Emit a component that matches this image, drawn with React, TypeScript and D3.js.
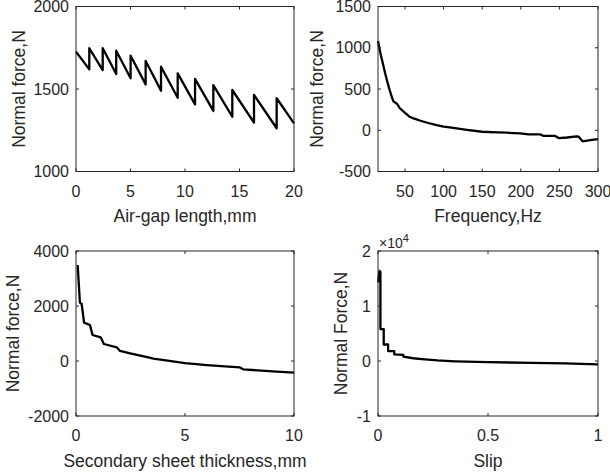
import React from "react";
import * as d3 from "d3";

// panel 1: air-gap sweep (sawtooth)
const airGap = [0, 1.22, 1.22, 2.45, 2.45, 3.69, 3.69, 5.01, 5.01, 6.39, 6.39, 7.8, 7.8, 9.33, 9.33, 10.92, 10.92, 12.6, 12.6, 14.34, 14.34, 16.33, 16.33, 18.41, 18.41, 20];
const forceGap = [1726, 1619, 1747, 1615, 1747, 1591, 1732, 1565, 1702, 1528, 1670, 1490, 1635, 1447, 1595, 1407, 1561, 1367, 1524, 1332, 1494, 1296, 1464, 1262, 1444, 1292];

// panel 2: frequency sweep
const freq = [15, 18, 21, 24, 27, 30, 33, 35, 38, 40, 43, 46, 50, 53, 56, 62, 70, 80, 91, 100, 108, 117, 130, 150, 170, 182, 199, 210, 225, 229, 244, 249, 260, 272, 275, 280, 290, 300];
const forceFreq = [1081, 940, 820, 700, 590, 490, 400, 350, 330, 316, 270, 244, 211, 188, 163, 140, 115, 88, 62, 45, 34, 22, 5, -18, -25, -30, -38, -50, -50, -67, -67, -95, -88, -74, -78, -134, -120, -107];

// panel 3: secondary sheet thickness sweep
const thick = [0.077, 0.18, 0.26, 0.37, 0.64, 0.76, 1.13, 1.28, 1.87, 2.02, 2.48, 3.32, 3.55, 4.2, 5.0, 6.0, 7.0, 7.52, 7.67, 8.5, 9.2, 10];
const forceThick = [3491, 2120, 2073, 1393, 1309, 945, 862, 618, 498, 364, 280, 135, 84, 15, -78, -150, -205, -235, -302, -350, -390, -425];

// panel 4: slip sweep (x1e4 N)
const slip = [0.001, 0.004, 0.007, 0.009, 0.011, 0.011, 0.026, 0.026, 0.046, 0.046, 0.074, 0.074, 0.115, 0.115, 0.16, 0.2, 0.27, 0.35, 0.5, 0.7, 0.85, 1.0];
const forceSlip = [1.43, 1.55, 1.64, 1.5, 1.62, 0.58, 0.58, 0.3, 0.3, 0.18, 0.18, 0.12, 0.11, 0.08, 0.05, 0.035, 0.01, -0.005, -0.02, -0.035, -0.045, -0.06];

const gapTicks = [0, 5, 10, 15, 20];
const gapForceTicks = [1000, 1500, 2000];
const freqTicks = [50, 100, 150, 200, 250, 300];
const freqForceTicks = [-500, 0, 500, 1000, 1500];
const thickTicks = [0, 5, 10];
const thickForceTicks = [-2000, 0, 2000, 4000];
const slipTicks = [0, 0.5, 1];
const slipForceTicks = [-1, 0, 1, 2];

const FONT = "'Liberation Sans', Arial, sans-serif";
const INK = "#262626";
const TICK = 3;

type Box = { left: number; right: number; top: number; bottom: number };

function Panel(props: {
  box: Box;
  xDomain: [number, number];
  yDomain: [number, number];
  xTicks: number[];
  yTicks: number[];
  xs: number[];
  ys: number[];
  xLabel: string;
  yLabel: string;
  yLabelX: number;
  exponent?: boolean;
}) {
  const { box, xDomain, yDomain, xTicks, yTicks, xs, ys, xLabel, yLabel, yLabelX, exponent } = props;
  const x = d3.scaleLinear().domain(xDomain).range([box.left, box.right]);
  const y = d3.scaleLinear().domain(yDomain).range([box.bottom, box.top]);
  const line = d3
    .line<number>()
    .x((d, i) => x(xs[i]))
    .y((d) => y(d));
  const midY = (box.top + box.bottom) / 2;
  const midX = (box.left + box.right) / 2;

  return (
    <g>
      <path d={line(ys) || ""} fill="none" stroke="#000" strokeWidth={2.3} strokeLinejoin="round" />
      <rect
        x={box.left}
        y={box.top}
        width={box.right - box.left}
        height={box.bottom - box.top}
        fill="none"
        stroke={INK}
        strokeWidth={1}
      />
      {xTicks.map((t) => (
        <g key={"x" + t}>
          <line x1={x(t)} x2={x(t)} y1={box.bottom} y2={box.bottom - TICK} stroke={INK} />
          <line x1={x(t)} x2={x(t)} y1={box.top} y2={box.top + TICK} stroke={INK} />
          <text x={x(t)} y={box.bottom + 25} textAnchor="middle" fontSize={16} fill={INK} fontFamily={FONT}>
            {t}
          </text>
        </g>
      ))}
      {yTicks.map((t) => (
        <g key={"y" + t}>
          <line x1={box.left} x2={box.left + TICK} y1={y(t)} y2={y(t)} stroke={INK} />
          <line x1={box.right} x2={box.right - TICK} y1={y(t)} y2={y(t)} stroke={INK} />
          <text x={box.left - 7} y={y(t) + 5.5} textAnchor="end" fontSize={16} fill={INK} fontFamily={FONT}>
            {t}
          </text>
        </g>
      ))}
      <text x={midX} y={box.bottom + 50.5} textAnchor="middle" fontSize={17.5} fill={INK} fontFamily={FONT}>
        {xLabel}
      </text>
      <text
        transform={`translate(${yLabelX},${midY}) rotate(-90)`}
        textAnchor="middle"
        fontSize={17.5}
        fill={INK}
        fontFamily={FONT}
      >
        {yLabel}
      </text>
      {exponent && (
        <text x={box.left + 1} y={box.top - 3} fontSize={14} fill={INK} fontFamily={FONT}>
          ×10
          <tspan dy={-6} fontSize={11}>
            4
          </tspan>
        </text>
      )}
    </g>
  );
}

export default function App() {
  return (
    <svg
      width={610}
      height={474}
      style={{ position: "absolute", left: 0, top: 0, background: "#fff" }}
    >
      <rect width={610} height={474} fill="#fff" />
      <Panel
        box={{ left: 76, right: 294, top: 6.5, bottom: 171.5 }}
        xDomain={[0, 20]}
        yDomain={[1000, 2000]}
        xTicks={gapTicks}
        yTicks={gapForceTicks}
        xs={airGap}
        ys={forceGap}
        xLabel="Air-gap length,mm"
        yLabel="Normal force,N"
        yLabelX={25}
      />
      <Panel
        box={{ left: 378, right: 598, top: 6.5, bottom: 171.5 }}
        xDomain={[15, 300]}
        yDomain={[-500, 1500]}
        xTicks={freqTicks}
        yTicks={freqForceTicks}
        xs={freq}
        ys={forceFreq}
        xLabel="Frequency,Hz"
        yLabel="Normal force,N"
        yLabelX={323}
      />
      <Panel
        box={{ left: 76, right: 294, top: 251, bottom: 416 }}
        xDomain={[0, 10]}
        yDomain={[-2000, 4000]}
        xTicks={thickTicks}
        yTicks={thickForceTicks}
        xs={thick}
        ys={forceThick}
        xLabel="Secondary sheet thickness,mm"
        yLabel="Normal force,N"
        yLabelX={18.5}
      />
      <Panel
        box={{ left: 378, right: 598, top: 251, bottom: 416 }}
        xDomain={[0, 1]}
        yDomain={[-1, 2]}
        xTicks={slipTicks}
        yTicks={slipForceTicks}
        xs={slip}
        ys={forceSlip}
        xLabel="Slip"
        yLabel="Normal Force,N"
        yLabelX={347}
        exponent
      />
    </svg>
  );
}
